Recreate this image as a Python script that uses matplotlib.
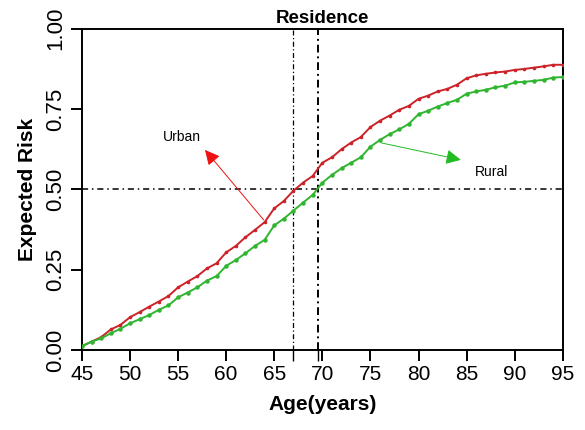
import matplotlib
matplotlib.use('Agg')
import matplotlib.pyplot as plt

plt.rcParams['font.family'] = ['Liberation Sans', 'DejaVu Sans']

ages = list(range(45, 96))
urban = [0.012, 0.026, 0.040, 0.064, 0.078, 0.102, 0.118, 0.135, 0.151, 0.168,
         0.195, 0.213, 0.230, 0.254, 0.270, 0.304, 0.324, 0.351, 0.374, 0.398,
         0.441, 0.464, 0.496, 0.521, 0.542, 0.583, 0.600, 0.625, 0.646, 0.663,
         0.694, 0.714, 0.730, 0.748, 0.760, 0.782, 0.792, 0.805, 0.813, 0.826,
         0.846, 0.855, 0.860, 0.864, 0.867, 0.872, 0.875, 0.879, 0.883, 0.888,
         0.888]
rural = [0.012, 0.026, 0.036, 0.052, 0.066, 0.083, 0.096, 0.109, 0.125, 0.139,
         0.164, 0.179, 0.195, 0.216, 0.230, 0.262, 0.280, 0.301, 0.324, 0.343,
         0.388, 0.409, 0.434, 0.459, 0.483, 0.521, 0.545, 0.566, 0.583, 0.600,
         0.633, 0.654, 0.672, 0.687, 0.704, 0.734, 0.745, 0.758, 0.769, 0.779,
         0.798, 0.805, 0.810, 0.818, 0.823, 0.833, 0.835, 0.838, 0.841, 0.848,
         0.850]

# median ages (risk = 0.5) for urban and rural
median_urban = 67.0
median_rural = 69.6
risk_half = 0.5

xticks = [45, 50, 55, 60, 65, 70, 75, 80, 85, 90, 95]
yticks = [0.0, 0.25, 0.5, 0.75, 1.0]

fig = plt.figure(figsize=(5.85, 4.30), dpi=100)
ax = fig.add_axes([0.140, 0.186, 0.822, 0.747])

ax.plot(ages, urban, color='#cc2229', lw=1.4, marker='o', ms=1.6, zorder=3)
ax.plot(ages, rural, color='#2fb52f', lw=1.4, marker='o', ms=2.2, zorder=3)

ax.axhline(risk_half, color='black', lw=1.1, ls=(0, (4, 2.5, 1, 2.5)), zorder=2)
ax.axvline(median_urban, color='black', lw=0.9, ls=(0, (4, 2, 1, 2)), zorder=2)
ax.axvline(median_rural, color='black', lw=1.4, ls=(0, (4, 2, 1, 2)), zorder=2)

# labels with arrows
ax.annotate('', xy=(57.8, 0.623), xytext=(63.9, 0.405),
            arrowprops=dict(arrowstyle='-|>,head_length=0.9,head_width=0.45',
                            color='#b03030', lw=0.7, shrinkA=0, shrinkB=0,
                            fc='#ee1111', ec='#ee1111'))
ax.text(55.4, 0.664, 'Urban', fontsize=10, ha='center', va='center')
ax.annotate('', xy=(84.4, 0.592), xytext=(76.1, 0.645),
            arrowprops=dict(arrowstyle='-|>,head_length=0.9,head_width=0.45',
                            color='#2fa82f', lw=0.7, shrinkA=0, shrinkB=0,
                            fc='#22bb22', ec='#22bb22'))
ax.text(87.6, 0.555, 'Rural', fontsize=10, ha='center', va='center')

ax.set_xlim(45, 95)
ax.set_ylim(0, 1)
ax.set_xticks(xticks)
ax.set_xticks([median_urban, median_rural], minor=True)
ax.set_yticks(yticks)
ax.set_yticklabels(['0.00', '0.25', '0.50', '0.75', '1.00'],
                   rotation=90, va='center')
ax.tick_params(axis='both', which='both', direction='out', length=8,
               width=1.4, labelsize=15)
ax.tick_params(axis='y', labelsize=16, pad=3)
ax.tick_params(axis='x', which='minor', length=8, width=1.0)
ax.tick_params(axis='x', pad=3)
for s in ax.spines.values():
    s.set_linewidth(1.4)

ax.set_title('Residence', fontsize=13.5, fontweight='bold', pad=4)
ax.set_xlabel('Age(years)', fontsize=15, fontweight='bold', labelpad=8)
ax.set_ylabel('Expected Risk', fontsize=15, fontweight='bold', labelpad=6)

fig.savefig('out.png', dpi=100)
